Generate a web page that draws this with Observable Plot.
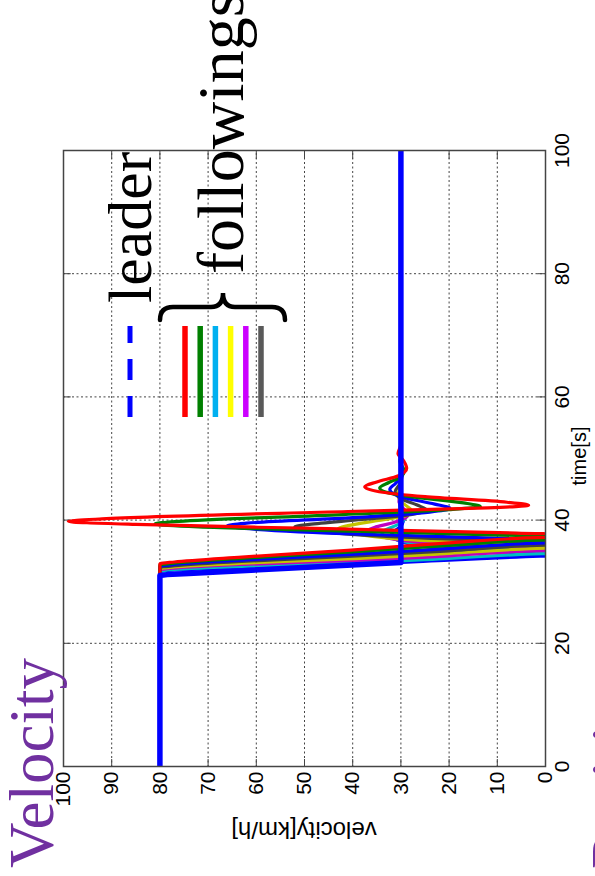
<!DOCTYPE html>
<html><head><meta charset="utf-8">
<script src="https://cdn.jsdelivr.net/npm/d3@7"></script>
<script src="https://cdn.jsdelivr.net/npm/@observablehq/plot@0.6"></script>
<style>
html,body{margin:0;padding:0;background:#fff;overflow:hidden;width:595px;height:876px;}
#rot{position:absolute;left:0;top:0;width:876px;height:595px;transform-origin:0 0;transform:translate(0px,876px) rotate(-90deg);}
#rot > svg{position:absolute;left:0;top:0;}
</style></head><body><div id="rot"></div>
<script>
// ---- axis ticks ----
const timeTicks = [0, 20, 40, 60, 80, 100];
const velocityTicks = [0, 10, 20, 30, 40, 50, 60, 70, 80, 90, 100];

// ---- leader velocity [t(s), v(km/h)] ----
const leader = [[0,80],[31.0,80],[31.15,78.5],[31.35,74],[33.1,30],[100,30]];

// ---- followers (closest -> farthest) [t(s), v(km/h)] ----
const follower1 = [[0,80],[31.6,80],[31.9,77],[32.3,63],[32.8,41],[33.5,20],[34.0,6],[34.4,-6],[34.8,8],[35.6,24],[36.7,30.5],[37.6,32],[38.1,31.5],[39.0,30],[39.8,29.5],[40.3,29.4],[41.3,29.9],[42.6,30.2],[44,30],[100,30]];
const follower2 = [[0,80],[31.7,80],[32.0,77],[32.5,63],[33.0,41],[33.8,20],[34.4,6],[34.8,-6],[35.2,8],[36.0,25],[37.1,32],[38.0,34],[38.5,33],[39.3,30.5],[40.1,29.3],[40.7,29],[41.6,29.7],[42.8,30.3],[44.5,30],[100,30]];
const follower3 = [[0,80],[31.9,80],[32.2,77],[32.8,63],[33.4,41],[34.2,20],[34.9,6],[35.3,-7],[35.7,8],[36.5,27],[37.5,35],[38.3,37],[38.8,35.5],[39.6,31.5],[40.4,29],[41.0,28.5],[41.9,29.5],[43.0,30.4],[44.2,30.2],[46,30],[100,30]];
const follower4 = [[0,80],[32.1,80],[32.4,77],[33.0,63],[33.7,41],[34.6,20],[35.3,5],[35.7,-7],[36.1,8],[36.9,30],[37.9,40],[38.6,43],[39.1,41],[39.9,35],[40.7,29],[41.3,27.5],[42.1,28.5],[43.2,30.2],[44.2,30.6],[45.5,30.1],[47,30],[100,30]];
const follower5 = [[0,80],[32.3,80],[32.6,77],[33.3,63],[34.1,41],[35.0,20],[35.8,5],[36.2,-8],[36.6,8],[37.4,34],[38.3,48],[38.9,52],[39.3,49],[40.1,38],[40.9,28],[41.6,24.6],[42.4,26.5],[43.4,29.8],[44.6,31.2],[45.8,30.3],[47,29.8],[48.5,30],[100,30]];
const follower6 = [[0,80],[32.5,80],[32.8,77],[33.5,63],[34.4,41],[35.4,20],[36.2,4],[36.6,-8],[37.0,7],[37.7,38],[38.5,60],[39.1,66],[39.5,62],[40.4,40],[41.3,24],[41.9,19.8],[42.6,23],[43.6,29],[44.3,31.6],[45.0,32.3],[45.9,31.2],[46.9,29.9],[47.8,29.6],[49.5,30.1],[51,30],[100,30]];
const follower7 = [[0,80],[32.7,80],[33.0,77],[33.8,63],[34.8,41],[35.9,20],[36.7,4],[37.1,-9],[37.5,6],[38.2,40],[38.9,72],[39.4,81],[39.8,76],[40.9,42],[41.7,20],[42.2,13.5],[42.8,17],[43.8,28],[44.5,33],[45.2,34.4],[46.1,32.5],[47.0,30],[48.0,29.3],[49.5,30.2],[51,30],[100,30]];
const follower8 = [[0,80],[32.9,80],[33.2,77],[34.0,63],[35.1,41],[36.3,20],[37.1,4],[37.5,-10],[37.9,6],[38.6,45],[39.3,85],[39.8,99],[40.2,92],[41.4,41],[42.0,12],[42.4,3.5],[42.9,8],[43.8,25],[44.6,34.5],[45.4,37.5],[46.2,35],[47.2,30.5],[48.4,28.8],[49.6,29.4],[50.8,30.6],[52.3,30],[100,30]];

const followerNames = ["f1","f2","f3","f4","f5","f6","f7","f8"];
const followerColors = ["#0000ff","#00bfbf","#bf00bf","#c4c400","#404040","#0000ff","#008000","#ff0000"];
const followerSeries = [follower1,follower2,follower3,follower4,follower5,follower6,follower7,follower8];

// ---- legend ----
const legendColors = ["#ff0000","#008000","#00b0f0","#ffff00","#cc00ff","#595959"];
const leaderColor = "#0000ff";

const rows = [];
followerSeries.forEach((s, i) => s.forEach(([t, v]) => rows.push({id: followerNames[i], t, v})));
const leaderRows = leader.map(([t, v]) => ({t, v}));

const chart = Plot.plot({
  width: 876, height: 595,
  marginLeft: 109, marginRight: 151, marginTop: 63, marginBottom: 50,
  style: {fontFamily: "'Liberation Sans', Arial, sans-serif", fontSize: "21px", color: "#000", background: "transparent", overflow: "visible"},
  x: {domain: [0, 100], ticks: timeTicks, tickSize: 0, tickPadding: 9, label: null},
  y: {domain: [0, 100], ticks: velocityTicks, tickSize: 0, tickPadding: 5, label: null},
  color: {domain: followerNames, range: followerColors},
  marks: [
    Plot.gridX(timeTicks, {stroke: "#444", strokeOpacity: 1, strokeDasharray: "2,2.5"}),
    Plot.gridY(velocityTicks, {stroke: "#444", strokeOpacity: 1, strokeDasharray: "2,2.5"}),
    Plot.ruleX(timeTicks, {x: d => d, y1: 0, y2: 1.6, stroke: "#444"}),
    Plot.ruleX(timeTicks, {x: d => d, y1: 98.4, y2: 100, stroke: "#444"}),
    Plot.ruleY(velocityTicks, {y: d => d, x1: 0, x2: 1.3, stroke: "#444"}),
    Plot.ruleY(velocityTicks, {y: d => d, x1: 98.7, x2: 100, stroke: "#444"}),
    Plot.line(rows, {x: "t", y: "v", z: "id", stroke: "id", strokeWidth: 3.2, curve: "monotone-x", clip: true}),
    Plot.line(leaderRows, {x: "t", y: "v", stroke: leaderColor, strokeWidth: 5.5, curve: "linear", strokeLinejoin: "round", clip: true}),
    Plot.frame({stroke: "#444", strokeWidth: 1.5})
  ]
});
const rot = document.getElementById("rot");
rot.appendChild(chart);

// ---- overlay annotations (titles, axis labels, legend) ----
const ov = d3.select(rot).append("svg").attr("width", 876).attr("height", 595)
  .attr("viewBox", "0 0 876 595").style("overflow", "hidden");
const serif = "'Liberation Serif', 'Times New Roman', serif";
const sans = "'Liberation Sans', Arial, sans-serif";

ov.append("text").attr("x", 8).attr("y", 53).attr("font-family", serif).attr("font-size", 63)
  .attr("fill", "#7030a0").text("Velocity");
ov.append("text").attr("x", 7).attr("y", 635).attr("font-family", serif).attr("font-size", 63)
  .attr("fill", "#7030a0").text("Position");

ov.append("text").attr("transform", "translate(46,304) rotate(-90)").attr("text-anchor", "middle")
  .attr("dominant-baseline", "central").attr("font-family", sans).attr("font-size", 24).text("velocity[km/h]");
ov.append("text").attr("x", 420).attr("y", 586).attr("text-anchor", "middle")
  .attr("font-family", sans).attr("font-size", 20).text("time[s]");

// legend: leader
ov.append("line").attr("x1", 459).attr("x2", 550).attr("y1", 130).attr("y2", 130)
  .attr("stroke", leaderColor).attr("stroke-width", 5).attr("stroke-dasharray", "21,16");
ov.append("text").attr("x", 573).attr("y", 151).attr("font-family", serif).attr("font-size", 62)
  .attr("fill", "#000").text("leader");
// legend: followers
legendColors.forEach((c, i) => {
  ov.append("line").attr("x1", 459).attr("x2", 550).attr("y1", 185 + i * 15.2).attr("y2", 185 + i * 15.2)
    .attr("stroke", c).attr("stroke-width", 5.5);
});
ov.append("path")
  .attr("d", "M556,160 Q569,160 569,173 L569,211 Q569,223 583,223 Q569,223 569,235 L569,272 Q569,285 556,285")
  .attr("fill", "none").attr("stroke", "#000").attr("stroke-width", 4.5).attr("stroke-linecap", "round");
ov.append("text").attr("x", 602).attr("y", 243).attr("font-family", serif).attr("font-size", 66)
  .attr("fill", "#000").text("followings");
</script>
</body></html>
